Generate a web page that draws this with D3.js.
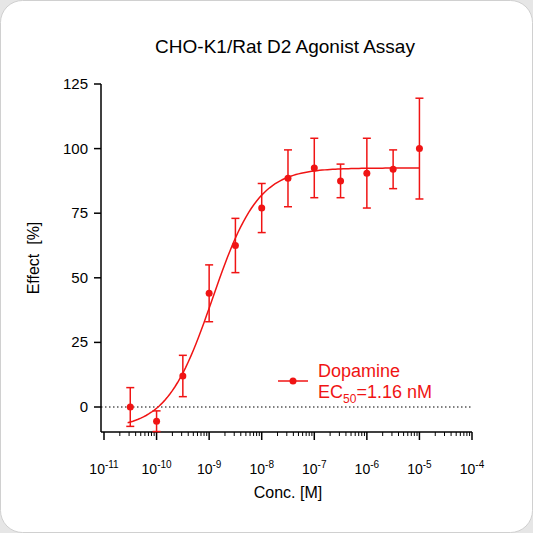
<!DOCTYPE html>
<html><head><meta charset="utf-8">
<script src="https://cdn.jsdelivr.net/npm/d3@7"></script>
<style>body{margin:0;background:#e6e6e6}svg{display:block;font-family:Arial,"Liberation Sans",sans-serif}</style>
</head><body>
<svg width="533" height="533"></svg>
<script>
// measured points
var conc = [3.16e-11, 1e-10, 3.16e-10, 1e-9, 3.16e-9, 1e-8, 3.16e-8, 1e-7, 3.16e-7, 1e-6, 3.16e-6, 1e-5];
var effect = [0, -5.5, 12, 44, 62.5, 77, 88.5, 92.5, 87.5, 90.5, 92, 100];
var errs = [7.5, 4, 8, 11, 10.5, 9.5, 11, 11.5, 6.5, 13.5, 7.5, 19.5];
// fit parameters
var fitBottom = -8.5, fitTop = 92.5, ec50 = 1.16e-9, hill = 1.0;
var yTicks = [0, 25, 50, 75, 100, 125];
var xExps = [-11, -10, -9, -8, -7, -6, -5, -4];
var red = '#f01414';

var svg = d3.select('svg');
svg.append('rect').attr('x', 0.5).attr('y', 0.5).attr('width', 532).attr('height', 532)
  .attr('rx', 22).attr('fill', '#fff').attr('stroke', '#d0d0d0');

var x = d3.scaleLog().domain([1e-11, 1e-4]).range([104, 472]);
var y = d3.scaleLinear().domain([0, 125]).range([407, 84]);

// axes
svg.append('line').attr('x1', 101).attr('x2', 101).attr('y1', y(125)).attr('y2', 432).attr('stroke', '#000').attr('stroke-width', 1.5);
svg.append('line').attr('x1', 101).attr('x2', 472).attr('y1', 432).attr('y2', 432).attr('stroke', '#000').attr('stroke-width', 1.5);

yTicks.forEach(function (t) {
  svg.append('line').attr('x1', 94).attr('x2', 101).attr('y1', y(t)).attr('y2', y(t)).attr('stroke', '#000').attr('stroke-width', 1.5);
  svg.append('text').attr('x', 88).attr('y', y(t) + 5).attr('text-anchor', 'end').attr('font-size', 15).text(t);
});

xExps.forEach(function (e, i) {
  var v = Math.pow(10, e);
  svg.append('line').attr('x1', x(v)).attr('x2', x(v)).attr('y1', 432).attr('y2', 440).attr('stroke', '#000').attr('stroke-width', 1.5);
  if (i < xExps.length - 1) {
    for (var k = 2; k < 10; k++) {
      svg.append('line').attr('x1', x(v * k)).attr('x2', x(v * k)).attr('y1', 432).attr('y2', 436).attr('stroke', '#000');
    }
  }
  var t = svg.append('text').attr('x', x(v)).attr('y', 474).attr('text-anchor', 'middle').attr('font-size', 14);
  t.append('tspan').text('10');
  t.append('tspan').attr('dy', -6).attr('font-size', 10).text(e);
});

// dotted zero line
svg.append('line').attr('x1', 101).attr('x2', 472).attr('y1', y(0)).attr('y2', y(0))
  .attr('stroke', '#000').attr('stroke-dasharray', '1.5,2.5');

// fitted curve
var fitX = d3.range(-10.55, -5.0 + 0.001, 0.05).map(function (e) { return Math.pow(10, e); });
var curve = d3.line().x(function (c) { return x(c); })
  .y(function (c) { return y(fitBottom + (fitTop - fitBottom) / (1 + Math.pow(ec50 / c, hill))); });
svg.append('path').datum(fitX).attr('d', curve).attr('fill', 'none').attr('stroke', red).attr('stroke-width', 1.5);

// error bars & points
conc.forEach(function (c, i) {
  var cx = x(c);
  svg.append('line').attr('x1', cx).attr('x2', cx).attr('y1', y(effect[i] - errs[i])).attr('y2', y(effect[i] + errs[i])).attr('stroke', red).attr('stroke-width', 1.5);
  [effect[i] - errs[i], effect[i] + errs[i]].forEach(function (v) {
    svg.append('line').attr('x1', cx - 4).attr('x2', cx + 4).attr('y1', y(v)).attr('y2', y(v)).attr('stroke', red).attr('stroke-width', 1.5);
  });
  svg.append('circle').attr('cx', cx).attr('cy', y(effect[i])).attr('r', 3.5).attr('fill', red);
});

// legend
svg.append('line').attr('x1', 278).attr('x2', 308).attr('y1', 381).attr('y2', 381).attr('stroke', red).attr('stroke-width', 1.5);
svg.append('circle').attr('cx', 293).attr('cy', 381).attr('r', 3.5).attr('fill', red);
svg.append('text').attr('x', 318).attr('y', 377).attr('font-size', 18).attr('fill', red).text('Dopamine');
var ec = svg.append('text').attr('x', 318).attr('y', 398).attr('font-size', 18).attr('fill', red);
ec.append('tspan').text('EC');
ec.append('tspan').attr('dy', 5).attr('font-size', 12).text('50');
ec.append('tspan').attr('dy', -5).text('=1.16 nM');

// titles
svg.append('text').attr('x', 285).attr('y', 53).attr('text-anchor', 'middle').attr('font-size', 19).text('CHO-K1/Rat D2 Agonist Assay');
svg.append('text').attr('x', 288).attr('y', 498).attr('text-anchor', 'middle').attr('font-size', 16).text('Conc. [M]');
svg.append('text').attr('transform', 'translate(39,258) rotate(-90)').attr('text-anchor', 'middle').attr('font-size', 16).attr('xml:space', 'preserve').text('Effect  [%]');
</script>
</body></html>
